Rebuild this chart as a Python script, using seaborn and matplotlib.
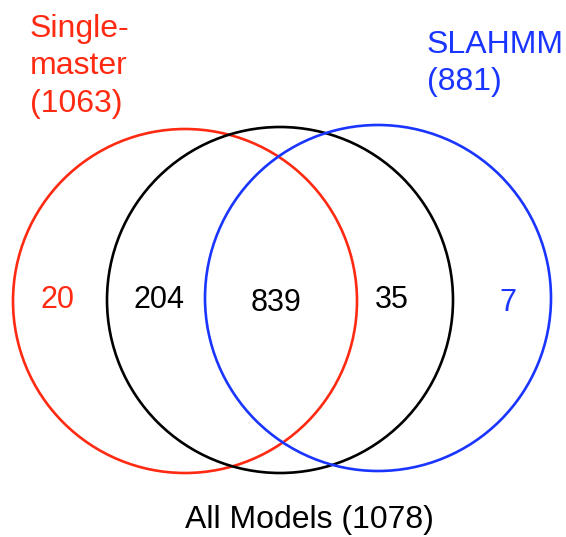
import matplotlib
matplotlib.use("Agg")
import matplotlib.pyplot as plt
from matplotlib.patches import Circle
import seaborn as sns
import pandas as pd

sns.set_theme(style="white")
plt.rcParams['font.family'] = ['Liberation Sans', 'DejaVu Sans']

# Data
set_names = ["Single-master", "All Models", "SLAHMM"]
set_totals = [1063, 1078, 881]
region_counts = [20, 204, 839, 35, 7]
region_colors = ["#ff2a12", "black", "black", "black", "#1a35ff"]
set_colors = ["#ff2a12", "black", "#1a35ff"]

# Layout (pixel space)
circle_cx = [185, 280, 378]
circle_cy = [301, 300, 298]
circle_r = [172, 173, 173]
region_x = [57, 159, 276, 392, 508]
region_y = [308, 308, 311, 308, 311]

W, H, DPI = 566, 537, 100
fig = plt.figure(figsize=(W / DPI, H / DPI), dpi=DPI)
ax = fig.add_axes([0, 0, 1, 1])
ax.set_xlim(0, W)
ax.set_ylim(H, 0)
ax.set_aspect("equal")
ax.axis("off")

for cx, cy, r, c in zip(circle_cx, circle_cy, circle_r, set_colors):
    ax.add_patch(Circle((cx, cy), r, fill=False, edgecolor=c, linewidth=1.9))

df = pd.DataFrame({"x": region_x, "y": region_y, "n": region_counts, "c": region_colors})
for _, row in df.iterrows():
    ax.text(row.x, row.y, str(row.n), color=row.c, fontsize=22, ha="center", va="baseline")

# Set labels
red_lines = ["Single-", "master", f"({set_totals[0]})"]
for i, t in enumerate(red_lines):
    ax.text(30, 37 + 37.5 * i, t, color=set_colors[0], fontsize=23, ha="left", va="baseline")

blue_lines = [set_names[2], f"({set_totals[2]})"]
for i, t in enumerate(blue_lines):
    ax.text(427, 53 + 37 * i, t, color=set_colors[2], fontsize=23, ha="left", va="baseline")

ax.text(309, 528, f"{set_names[1]} ({set_totals[1]})", color="black", fontsize=23,
        ha="center", va="baseline")

fig.savefig("out.png", dpi=DPI)
